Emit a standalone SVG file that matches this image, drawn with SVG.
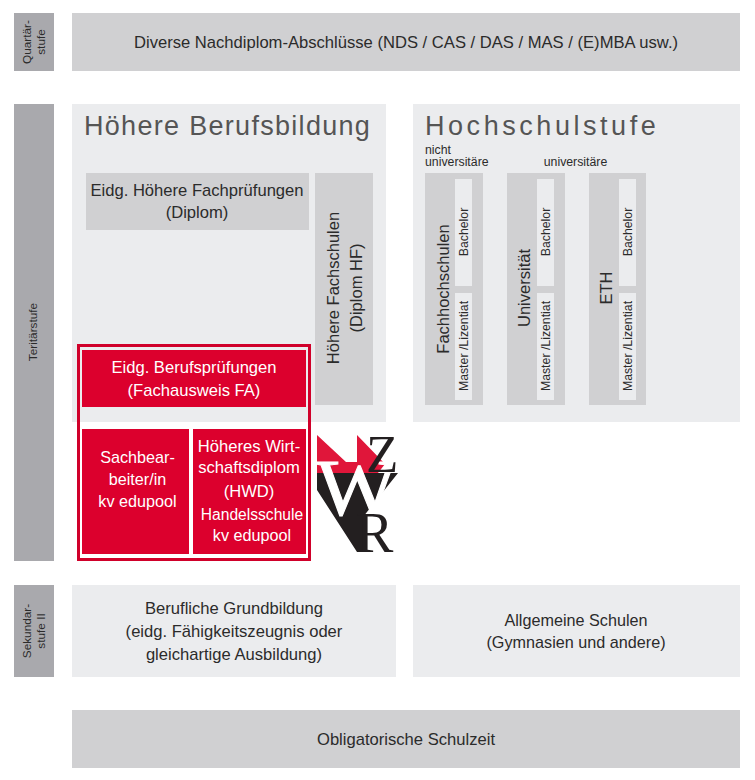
<svg xmlns="http://www.w3.org/2000/svg" width="755" height="780" viewBox="0 0 755 780">
<style>
text{font-family:"Liberation Sans",Arial,sans-serif;fill:#2b2b2b;text-anchor:middle}
.side{fill:#a9a9ad}.mid{fill:#d0d0d2}.light{fill:#ebecee}.red{fill:#dc002d}
.s{font-size:16.6px}.r{font-size:16.2px;fill:#fff}.t{font-size:11.8px}.u{font-size:12.3px}.v{font-size:16.5px}
.h{font-size:27px;fill:#555;text-anchor:start;letter-spacing:1.3px}
text.serif{font-family:"Liberation Serif",serif;text-anchor:start;fill:#231f20}
</style>
<rect width="755" height="780" fill="#fff"/>
<g id="quartaer-label"><rect class="side" x="14" y="13" width="40" height="58"/><text class="t" transform="translate(31,42) rotate(-90)">Quartär-</text><text class="t" transform="translate(45,42) rotate(-90)">stufe</text></g>
<g id="quartaer"><rect class="mid" x="72" y="13" width="668" height="58"/><text class="s" x="406" y="48">Diverse Nachdiplom-Abschlüsse (NDS / CAS / DAS / MAS / (E)MBA usw.)</text></g>
<g id="tertiaer-label"><rect class="side" x="14" y="104" width="40" height="457"/><text class="t" transform="translate(37,332) rotate(-90)">Teritärstufe</text></g>
<g id="hoehere-berufsbildung"><rect class="light" x="72" y="104" width="314" height="318"/><text class="h" x="84" y="135">Höhere Berufsbildung</text></g>
<g id="fachpruefungen"><rect class="mid" x="86" y="173" width="223" height="57"/><text class="s" x="197" y="196">Eidg. Höhere Fachprüfungen</text><text class="s" x="197" y="218">(Diplom)</text></g>
<g id="hoehere-fachschulen"><rect class="mid" x="315" y="173" width="58" height="232"/><text class="v" transform="translate(339,288) rotate(-90)">Höhere Fachschulen</text><text class="v" transform="translate(362,288) rotate(-90)">(Diplom HF)</text></g>
<g id="hochschulstufe"><rect class="light" x="413" y="104" width="327" height="318"/><text class="h" x="425" y="135" style="letter-spacing:3.55px">Hochschulstufe</text><text class="u" x="425" y="154" style="text-anchor:start">nicht</text><text class="u" x="425" y="166" style="text-anchor:start">universitäre</text><text class="u" x="575.500" y="166">universitäre</text></g>
<g id="fachhochschulen"><rect class="mid" x="425" y="173" width="58" height="232"/><rect class="light" x="455" y="179" width="17" height="107"/><rect class="light" x="455" y="293" width="17" height="107"/><text class="v" transform="translate(449,289) rotate(-90)">Fachhochschulen</text><text class="u" transform="translate(468,232) rotate(-90)">Bachelor</text><text class="u" transform="translate(468,346) rotate(-90)">Master /Lizentiat</text></g>
<g id="universitaet"><rect class="mid" x="507" y="173" width="58" height="232"/><rect class="light" x="537" y="179" width="17" height="107"/><rect class="light" x="537" y="293" width="17" height="107"/><text class="v" transform="translate(530,288) rotate(-90)">Universität</text><text class="u" transform="translate(550,232) rotate(-90)">Bachelor</text><text class="u" transform="translate(550,346) rotate(-90)">Master /Lizentiat</text></g>
<g id="eth"><rect class="mid" x="589" y="173" width="57" height="232"/><rect class="light" x="619" y="179" width="17" height="107"/><rect class="light" x="619" y="293" width="17" height="107"/><text class="v" transform="translate(612,288) rotate(-90)">ETH</text><text class="u" transform="translate(632,232) rotate(-90)">Bachelor</text><text class="u" transform="translate(632,346) rotate(-90)">Master /Lizentiat</text></g>
<g id="kv-rahmen"><rect x="78.500" y="345.500" width="231" height="214" fill="none" stroke="#d0002a" stroke-width="3"/></g>
<g id="berufspruefungen"><rect class="red" x="82" y="350" width="224" height="57"/><text class="s" style="fill:#fff" x="194" y="373">Eidg. Berufsprüfungen</text><text class="s" style="fill:#fff" x="194" y="396">(Fachausweis FA)</text></g>
<g id="sachbearbeiter"><rect class="red" x="82" y="429" width="107" height="125"/><text class="r" x="137.500" y="463">Sachbear-</text><text class="r" x="137.500" y="485">beiter/in</text><text class="r" x="137.500" y="507">kv edupool</text></g>
<g id="hwd"><rect class="red" x="193" y="429" width="113" height="125"/><text class="s" style="fill:#fff" x="249" y="452">Höheres Wirt-</text><text class="s" style="fill:#fff" x="249" y="473">schaftsdiplom</text><text class="s" style="fill:#fff" x="249" y="497">(HWD)</text><text class="r" style="font-size:15.6px" x="252" y="520">Handelsschule</text><text class="r" x="252" y="541">kv edupool</text></g>
<g id="logo">
<polygon points="317,435 346,462 357,462 357,435 385,464 378,473 317,473" fill="#e0163a"/>
<polygon points="317,473 398,473 363,517 363,552 357,552 317,490" fill="#231f20"/>
<text class="serif" x="316" y="515" font-size="80" style="fill:#fff;stroke:#fff;stroke-width:1" textLength="82" lengthAdjust="spacingAndGlyphs">W</text>
<text class="serif" x="366" y="472" font-size="53">Z</text>
<text class="serif" x="356" y="552" font-size="56">R</text>
</g>
<g id="sekundar-label"><rect class="side" x="14" y="585" width="40" height="92"/><text class="t" transform="translate(31,631) rotate(-90)">Sekundar-</text><text class="t" transform="translate(45,631) rotate(-90)">stufe II</text></g>
<g id="grundbildung"><rect class="light" x="72" y="585" width="324" height="92"/><text class="s" x="234" y="614">Berufliche Grundbildung</text><text class="s" x="234" y="637">(eidg. Fähigkeitszeugnis oder</text><text class="s" x="234" y="660">gleichartige Ausbildung)</text></g>
<g id="allgemeine-schulen"><rect class="light" x="413" y="585" width="327" height="92"/><text class="r" style="fill:#2b2b2b" x="576" y="626">Allgemeine Schulen</text><text class="r" style="fill:#2b2b2b" x="576" y="648">(Gymnasien und andere)</text></g>
<g id="obligatorisch"><rect class="mid" x="72" y="710" width="668" height="58"/><text class="s" x="406" y="745">Obligatorische Schulzeit</text></g>
</svg>
